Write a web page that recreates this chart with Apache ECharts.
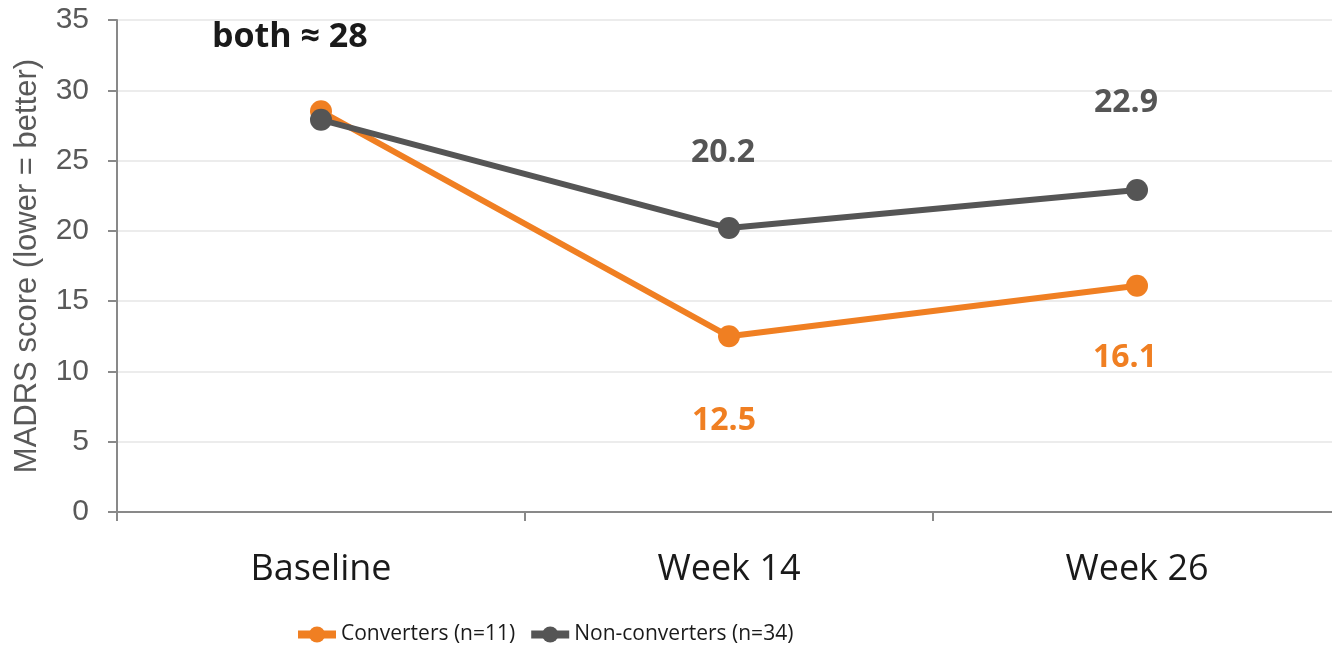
<!DOCTYPE html>
<html>
<head>
<meta charset="utf-8">
<style>
  html, body { margin: 0; padding: 0; background: #ffffff; overflow: hidden; }
  /* the plot runs slightly past the right edge of the window */
  #chart { width: 1341px; height: 651px; }
</style>
<script src="https://cdn.jsdelivr.net/npm/echarts@6/dist/echarts.min.js"></script>
</head>
<body>
<div id="chart"></div>
<script>
// Visit labels along the x axis
const visits = ['Baseline', 'Week 14', 'Week 26'];

// Mean MADRS score per visit
const converters = [28.5, 12.5, 16.1];
const nonConverters = [27.9, 20.2, 22.9];

// Y axis range
const yMin = 0;
const yMax = 35;
const yStep = 5;

const ORANGE = '#F07F22';
const GREY = '#555555';

// Value labels for the follow-up visits (baseline is annotated jointly)
function valueLabels(values, color, offsets) {
  return values.map(function (v, i) {
    const item = { value: v };
    if (offsets[i]) {
      item.label = {
        show: true,
        position: 'inside',
        offset: offsets[i],
        formatter: function (p) { return p.value.toFixed(1); },
        color: color,
        fontFamily: 'Open Sans',
        fontWeight: 'bold',
        fontSize: 32
      };
    }
    return item;
  });
}

const chart = echarts.init(document.getElementById('chart'), null, { renderer: 'canvas' });

chart.setOption({
  animation: false,
  backgroundColor: '#ffffff',
  grid: { left: 117, right: 0, top: 20, bottom: 139, containLabel: false },
  legend: {
    left: 289,
    top: 619,
    itemWidth: 38,
    itemHeight: 20,
    itemGap: 12,
    lineStyle: { width: 8 },
    textStyle: { fontFamily: 'Open Sans', fontSize: 21, color: '#1a1a1a' },
    data: ['Converters (n=11)', 'Non-converters (n=34)']
  },
  xAxis: {
    type: 'category',
    data: visits,
    boundaryGap: true,
    axisLine: { show: true, lineStyle: { color: '#898989', width: 2 } },
    axisTick: { show: true, length: 9, lineStyle: { color: '#898989', width: 2 } },
    axisLabel: { margin: 40, fontFamily: 'Open Sans', fontSize: 36, color: '#1a1a1a' },
    splitLine: { show: false }
  },
  yAxis: {
    type: 'value',
    min: yMin,
    max: yMax,
    interval: yStep,
    name: 'MADRS score (lower = better)',
    nameLocation: 'middle',
    nameGap: 74,
    nameTextStyle: { fontFamily: 'Liberation Sans', fontSize: 31, color: '#595959' },
    axisLine: { show: true, lineStyle: { color: '#898989', width: 2 } },
    axisTick: { show: true, length: 9, lineStyle: { color: '#898989', width: 2 } },
    axisLabel: { margin: 28, fontFamily: 'Liberation Sans', fontSize: 30, color: '#595959' },
    splitLine: { show: true, lineStyle: { color: '#e6e6e6', width: 1.5 } }
  },
  graphic: [{
    type: 'text',
    left: 212,
    top: 20,
    style: {
      text: 'both ≈ 28',
      fontFamily: 'Open Sans',
      fontWeight: 'bold',
      fontSize: 34,
      fill: '#1a1a1a'
    }
  }],
  series: [
    {
      name: 'Converters (n=11)',
      type: 'line',
      data: valueLabels(converters, ORANGE, [null, [-5, 85], [-12, 72]]),
      symbol: 'circle',
      symbolSize: 22,
      lineStyle: { color: ORANGE, width: 6 },
      itemStyle: { color: ORANGE },
      z: 2
    },
    {
      name: 'Non-converters (n=34)',
      type: 'line',
      data: valueLabels(nonConverters, GREY, [null, [-6, -75], [-11, -87]]),
      symbol: 'circle',
      symbolSize: 22,
      lineStyle: { color: GREY, width: 6 },
      itemStyle: { color: GREY },
      z: 3
    }
  ]
});
</script>
</body>
</html>
